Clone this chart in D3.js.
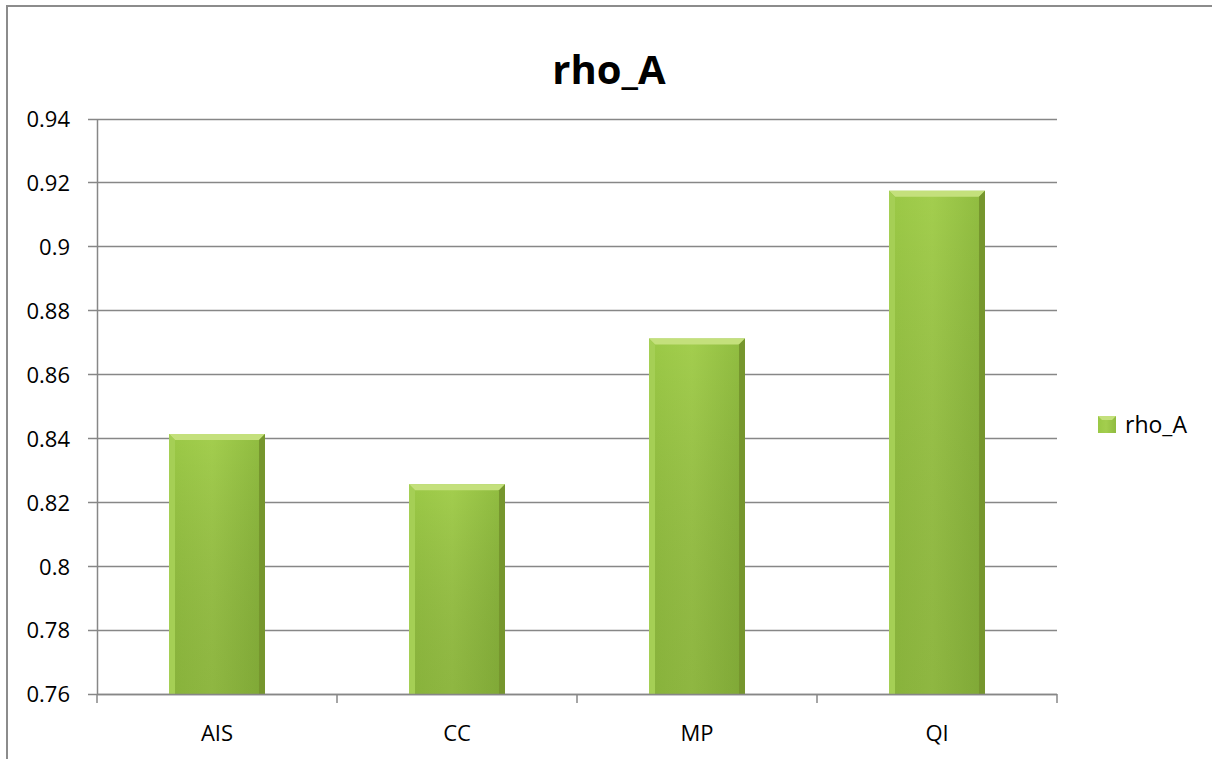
<!DOCTYPE html>
<html>
<head>
<meta charset="utf-8">
<script src="https://cdn.jsdelivr.net/npm/d3@7"></script>
<style>
  html, body { margin: 0; background: #fff; overflow: hidden; }
  svg { display: block; }
  text { font-family: "Open Sans", "Noto Sans", sans-serif; fill: #000; }
</style>
</head>
<body>
<div id="chart"></div>
<script>
// data
const categories = ["AIS", "CC", "MP", "QI"];
const values = [0.8413, 0.8256, 0.8712, 0.9174];
const yTicks = [0.76, 0.78, 0.8, 0.82, 0.84, 0.86, 0.88, 0.9, 0.92, 0.94];
const seriesName = "rho_A";
const title = "rho_A";

const W = 1212, H = 759;
const plot = { left: 97, right: 1057, top: 118.5, bottom: 694 };
const gridColor = "#878787";

const svg = d3.select("#chart").append("svg")
  .attr("width", W)
  .attr("height", H);

svg.append("rect").attr("width", W).attr("height", H).attr("fill", "#fff");

// outer chart border: only the top and left edges fall inside the window
svg.append("path")
  .attr("d", `M7,${H}L7,6L${W},6`)
  .attr("fill", "none")
  .attr("stroke", "#8c8c8c")
  .attr("stroke-width", 2);

// gradients for the bars
const defs = svg.append("defs");
const grad = defs.append("linearGradient").attr("id", "barGrad")
  .attr("x1", "0%").attr("x2", "100%").attr("y1", "0%").attr("y2", "0%");
grad.append("stop").attr("offset", "0%").attr("stop-color", "#9ac845");
grad.append("stop").attr("offset", "45%").attr("stop-color", "#a3ce4e");
grad.append("stop").attr("offset", "100%").attr("stop-color", "#8fbb3f");
const vgrad = defs.append("linearGradient").attr("id", "barShade")
  .attr("x1", "0%").attr("x2", "0%").attr("y1", "0%").attr("y2", "100%");
vgrad.append("stop").attr("offset", "0%").attr("stop-color", "#000").attr("stop-opacity", 0);
vgrad.append("stop").attr("offset", "100%").attr("stop-color", "#3d5a10").attr("stop-opacity", 0.2);

const x = d3.scaleBand()
  .domain(categories)
  .range([plot.left, plot.right])
  .paddingInner(0.6)
  .paddingOuter(0.3);

const y = d3.scaleLinear()
  .domain([0.76, 0.94])
  .range([plot.bottom, plot.top]);

// horizontal gridlines, with the small tick to the left of the axis
svg.append("g").attr("class", "grid")
  .selectAll("line")
  .data(yTicks)
  .join("line")
  .attr("x1", plot.left - 9)
  .attr("x2", plot.right)
  .attr("y1", d => Math.round(y(d)) + 0.5)
  .attr("y2", d => Math.round(y(d)) + 0.5)
  .attr("stroke", gridColor)
  .attr("stroke-width", 1.5);

// y axis labels
const yAxis = d3.axisLeft(y)
  .tickValues(yTicks)
  .tickFormat(d => d3.format("~g")(d))
  .tickSize(0)
  .tickPadding(27);

const yAxisGroup = svg.append("g")
  .attr("transform", `translate(${plot.left}, 0)`)
  .call(yAxis);
yAxisGroup.select(".domain").attr("stroke", gridColor).attr("stroke-width", 1.5);
yAxisGroup.selectAll("text")
  .style("font-size", "22px")
  .attr("dy", "0.36em");

// bars
const bars = svg.append("g").selectAll("g")
  .data(categories.map((c, i) => ({ cat: c, value: values[i] })))
  .join("g");

const bev = 6;
bars.append("rect")
  .attr("x", d => x(d.cat))
  .attr("y", d => y(d.value))
  .attr("width", x.bandwidth())
  .attr("height", d => y(0.76) - y(d.value))
  .attr("fill", "url(#barGrad)");

bars.append("rect")
  .attr("x", d => x(d.cat))
  .attr("y", d => y(d.value))
  .attr("width", x.bandwidth())
  .attr("height", d => y(0.76) - y(d.value))
  .attr("fill", "url(#barShade)");

// bevel edges
bars.append("path")   // top
  .attr("fill", "#c4e07c")
  .attr("d", d => {
    const x0 = x(d.cat), x1 = x0 + x.bandwidth(), y0 = y(d.value);
    return `M${x0},${y0}L${x1},${y0}L${x1 - bev},${y0 + bev}L${x0 + bev},${y0 + bev}Z`;
  });
bars.append("path")   // left
  .attr("fill", "#a5cf55")
  .attr("d", d => {
    const x0 = x(d.cat), y0 = y(d.value), yb = y(0.76);
    return `M${x0},${y0}L${x0 + bev},${y0 + bev}L${x0 + bev},${yb}L${x0},${yb}Z`;
  });
bars.append("path")   // right
  .attr("fill", "#76962e")
  .attr("d", d => {
    const x1 = x(d.cat) + x.bandwidth(), y0 = y(d.value), yb = y(0.76);
    return `M${x1},${y0}L${x1 - bev},${y0 + bev}L${x1 - bev},${yb}L${x1},${yb}Z`;
  });

// bottom axis line and boundary ticks
const boundaries = categories.map(c => x(c) - x.step() * x.paddingOuter()).concat([plot.right]);
svg.append("line")
  .attr("x1", plot.left).attr("x2", plot.right)
  .attr("y1", Math.round(y(0.76)) + 0.5).attr("y2", Math.round(y(0.76)) + 0.5)
  .attr("stroke", gridColor).attr("stroke-width", 1.5);
svg.append("g").selectAll("line")
  .data(boundaries)
  .join("line")
  .attr("x1", d => d).attr("x2", d => d)
  .attr("y1", y(0.76)).attr("y2", y(0.76) + 9)
  .attr("stroke", gridColor).attr("stroke-width", 1.5);

// x labels
const xAxis = d3.axisBottom(x).tickSize(0).tickPadding(31);
const xAxisGroup = svg.append("g")
  .attr("transform", `translate(0, ${plot.bottom})`)
  .call(xAxis);
xAxisGroup.select(".domain").remove();
xAxisGroup.selectAll("text").style("font-size", "22px");

// title
svg.append("text")
  .attr("x", 609)
  .attr("y", 84)
  .attr("text-anchor", "middle")
  .style("font-size", "40px")
  .style("font-weight", "bold")
  .text(title);

// legend
const legend = svg.append("g").attr("transform", "translate(1098, 416)");
legend.append("rect")
  .attr("width", 18).attr("height", 17)
  .attr("fill", "url(#barGrad)");
legend.append("path")
  .attr("fill", "#c4e07c")
  .attr("d", "M0,0L18,0L14,4L4,4Z");
legend.append("text")
  .attr("x", 27)
  .attr("y", 17)
  .style("font-size", "23px")
  .text(seriesName);
</script>
</body>
</html>
